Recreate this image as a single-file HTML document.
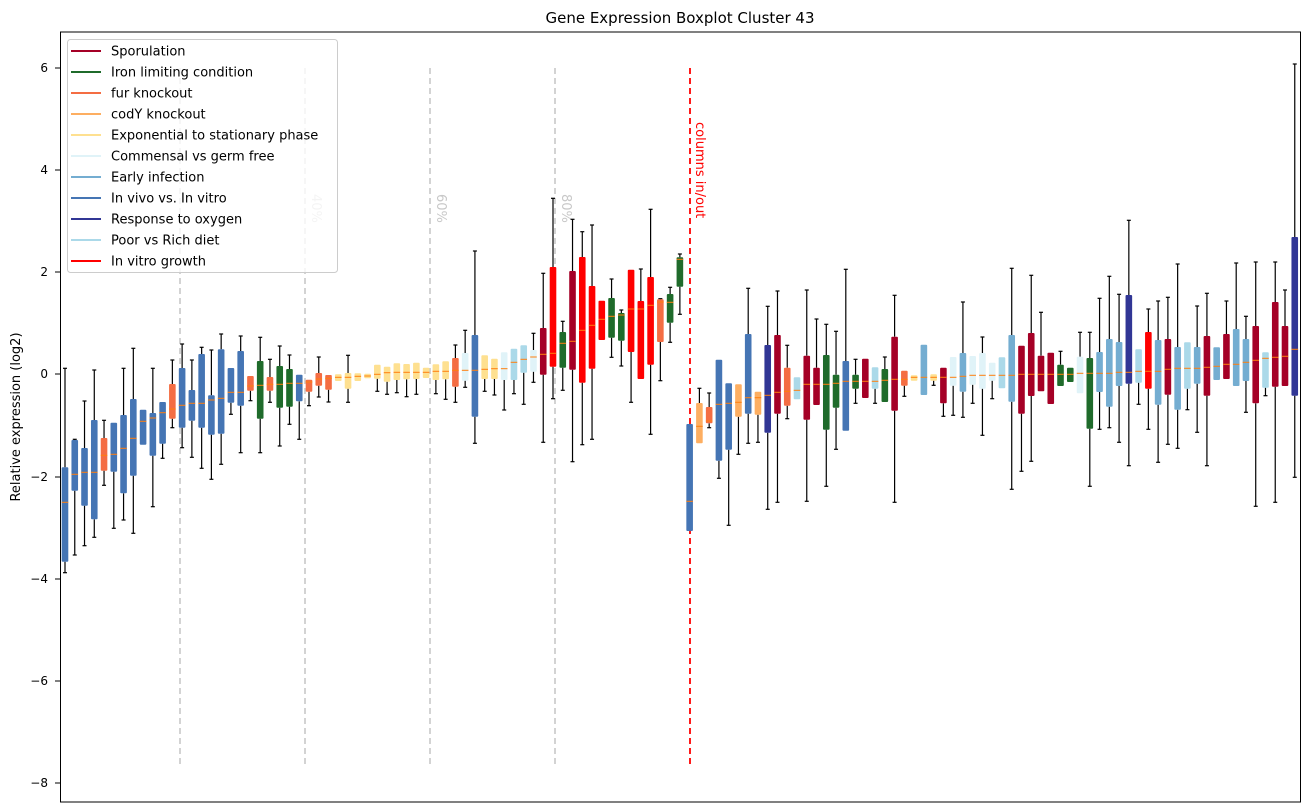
<!DOCTYPE html>
<html><head><meta charset="utf-8"><style>
html,body{margin:0;padding:0;background:#fff;}
svg{display:block;font-family:"DejaVu Sans","Liberation Sans",sans-serif;}
</style></head><body>
<svg id="s" width="1309" height="812" xmlns="http://www.w3.org/2000/svg">
<rect width="1309" height="812" fill="#fff"/>
<text x="680" y="23" font-size="15" text-anchor="middle">Gene Expression Boxplot Cluster 43</text>
<g id="grid" stroke="#c8c8c8" stroke-width="1.6" stroke-dasharray="6,4">
<line x1="180" y1="68" x2="180" y2="766"/><line x1="305" y1="68" x2="305" y2="766"/>
<line x1="430" y1="68" x2="430" y2="766"/><line x1="555" y1="68" x2="555" y2="766"/>
</g>
<g fill="#c8c8c8" font-size="13">
<text transform="translate(312,194) rotate(90)">40%</text>
<text transform="translate(437,194) rotate(90)">60%</text>
<text transform="translate(562,194) rotate(90)">80%</text>
</g>
<line x1="690" y1="68" x2="690" y2="766" stroke="#f00" stroke-width="1.8" stroke-dasharray="6,4"/>
<text transform="translate(696,122) rotate(90)" fill="#f00" font-size="13">columns in/out</text>
<g id="boxes"></g>
<rect x="60.5" y="32" width="1240" height="770" fill="none" stroke="#000" stroke-width="1"/>
<g font-size="12" text-anchor="end">
<text x="48" y="72">6</text><text x="48" y="174">4</text><text x="48" y="276">2</text><text x="48" y="378">0</text>
<text x="48" y="481">−2</text><text x="48" y="583">−4</text><text x="48" y="685">−6</text><text x="48" y="787">−8</text>
</g>
<g stroke="#000"><line x1="55" y1="68" x2="60" y2="68"/><line x1="55" y1="170" x2="60" y2="170"/><line x1="55" y1="272" x2="60" y2="272"/><line x1="55" y1="374" x2="60" y2="374"/><line x1="55" y1="477" x2="60" y2="477"/><line x1="55" y1="579" x2="60" y2="579"/><line x1="55" y1="681" x2="60" y2="681"/><line x1="55" y1="783" x2="60" y2="783"/></g>
<text transform="translate(20,417) rotate(-90)" font-size="13" text-anchor="middle">Relative expression (log2)</text>
<rect x="67.5" y="39.5" width="270" height="233" rx="3" fill="#fff" fill-opacity="0.8" stroke="#ccc"/>
<g id="leg" font-size="13"></g>
</svg>
<script>
var C={Sp:"#a50026",G:"#1f6b2b",O:"#f46d43",Cy:"#fdae61",Y:"#fee090",CF:"#e0f3f8",EI:"#74add1",B:"#4575b4",DN:"#313695",LB:"#abd9e9",R:"#ff0000"};
var groups=[
[280,[
["B",562,667,845,265,878],["B",480,583,632,478,825],["B",504,577,677,363,797],["B",420,577,718,270,772],["O",474,526,572,421,616],
["B",428,523,575,428,745],["B",405,505,640,265,720],["B",357,475,587,205,760],["B",389,424,494],["B",399,414,527,265,680],
["B",366,398,491,366,535],["O",312,387,416,240,443],["B",264,376,443,192,503],["B",330,370,422,240,532],["B",222,370,443,202,565],
["B",346,360,464,210,598],["B",208,355,461,162,553],["B",264,337,368,264,403],["B",213,337,377,168,518],["O",288,318,332,288,362],
["G",243,316,416,172,518],["O",291,313,332,238,367],["G",258,313,383,198,498],["G",267,310,380,225,433],["B",284,310,364,284,478],
["O",299,306,335,299,377],["O",279,297,317,231,351],["O",285,295,329,285,366],["Y",283,292,303],["Y",279,292,326,226,367],
["Y",280,289,303],["Y",281,288,295],["Y",254,283,296,254,334]]],
[180,[
["Y",560,578,605,560,643],["Y",550,577,600,550,638],["Y",552,577,598,552,650],["Y",548,577,597,548,643],["Y",563,577,594],
["Y",553,574,600,553,641],["Y",544,574,598,544,658],["O",534,571,620,495,667],["CF",519,571,602,451,622],["B",465,571,710,213,790],
["Y",526,568,597,526,634],["Y",536,566,597,536,645],["CF",517,566,600,517,690],["LB",506,547,600,506,641],["LB",496,538,578,496,673],
["CF",510,531,575,460,607],["Sp",444,523,584,280,787],["R",261,520,560,55,656],["G",456,490,563,424,631],["Sp",273,484,569,118,845],
["R",231,451,608,155,794],["R",318,436,566,135,778],["R",362,418,480],["G",354,409,473,297,532],["G",399,405,482,390,558],
["R",269,387,516,269,667],["R",363,387,597,267,597],["R",291,376,554,88,763],["O",358,366,486,356,602],["G",342,367,428,322,487],
["G",232,238,320,222,403]]],
[200,[
["B",672,904,993],["Cy",609,679,730,565,730],["O",621,663,670,579,683],["B",479,613,782,479,835],["B",550,610,749,550,976],
["Cy",553,607,650,553,763],["B",402,593,641,265,730],["Cy",575,593,644,575,727],["DN",435,586,698,319,928],["Sp",405,577,641,273,907],
["O",503,574,617,436,656],["LB",532,571,598],["Sp",467,553,659,270,904],["Sp",503,553,615,357,615],["G",465,553,689,373,859],
["G",524,550,623,394,748],["B",483,544,692,208,692],["G",524,544,566,478,610],["Sp",476,544,594],["LB",502,544,566,502,610],
["G",507,541,606,471,606],["Sp",410,538,632,286,907],["O",512,538,557,512,589],["Y",526,532,542],["EI",434,532,585],
["Y",523,532,542,523,556],["Sp",503,532,610,503,649],["CF",471,532,557,471,646],["EI",459,529,575,306,652],["CF",468,526,554,468,610],
["CF",459,526,566,411,706]]],
[200,[
["CF",488,526,542,488,596],["LB",472,526,565],["EI",405,526,605,205,868],["Sp",437,523,641,437,814],["Sp",399,523,588,226,784],
["Sp",467,523,574,337,574],["Sp",458,523,612],["G",494,523,558,454,558],["G",503,523,546],["CF",470,520,580,397,580],
["G",474,520,686,397,859],["EI",456,520,576,295,688],["EI",417,520,620,229,683],["EI",426,517,558,283,727],["DN",285,517,551,61,797],
["LB",448,514,548,448,613],["R",396,514,566,327,688],["EI",420,514,614,303,787],["Sp",417,508,584,292,733],["EI",441,505,629,192,745],
["LB",427,505,566,427,629],["EI",441,505,551,318,697],["Sp",408,502,587,280,797],["EI",442,499,540],["Sp",402,493,537,303,537],
["EI",387,493,558,189,558],["EI",417,487,543,349,637],["Sp",378,481,610,186,919],["LB",457,475,563,457,587],["Sp",306,472,560,186,907],
["Sp",378,469,558,270,558],["DN",111,448,587,-408,832]]]
];
var NS="http://www.w3.org/2000/svg",g=document.getElementById("boxes"),h="",i=0;
groups.forEach(function(gr){var oy=gr[0];gr[1].forEach(function(d){
 var x=65+i*9.76,f=function(z){return (oy+z/3).toFixed(1)};
 var t=+f(d[1]),m=f(d[2]),b=+f(d[3]),wt=d.length>4?+f(d[4]):t,wb=d.length>5?+f(d[5]):b;
 if(wt<t) h+='<line x1="'+x+'" y1="'+wt+'" x2="'+x+'" y2="'+t+'" stroke="#000" stroke-width="1.2"/><line x1="'+(x-2)+'" y1="'+wt+'" x2="'+(x+2)+'" y2="'+wt+'" stroke="#000" stroke-width="1.2"/>';
 if(wb>b) h+='<line x1="'+x+'" y1="'+b+'" x2="'+x+'" y2="'+wb+'" stroke="#000" stroke-width="1.2"/><line x1="'+(x-2)+'" y1="'+wb+'" x2="'+(x+2)+'" y2="'+wb+'" stroke="#000" stroke-width="1.2"/>';
 h+='<rect x="'+(x-3.3)+'" y="'+t+'" width="6.6" height="'+Math.max(b-t,1)+'" rx="1" fill="'+C[d[0]]+'"/>';
 h+='<line x1="'+(x-3.3)+'" y1="'+m+'" x2="'+(x+3.3)+'" y2="'+m+'" stroke="#ff7f0e" stroke-width="1"/>';
 i++;});});
g.innerHTML=h;
var L=[["Sporulation","Sp"],["Iron limiting condition","G"],["fur knockout","O"],["codY knockout","Cy"],["Exponential to stationary phase","Y"],["Commensal vs germ free","CF"],["Early infection","EI"],["In vivo vs. In vitro","B"],["Response to oxygen","DN"],["Poor vs Rich diet","LB"],["In vitro growth","R"]];
var lh="";L.forEach(function(e,k){var y=51+k*21;lh+='<line x1="71" y1="'+y+'" x2="101" y2="'+y+'" stroke="'+C[e[1]]+'" stroke-width="2"/><text x="111" y="'+(y+4.5)+'">'+e[0]+'</text>';});
document.getElementById("leg").innerHTML=lh;
</script>
</body></html>
